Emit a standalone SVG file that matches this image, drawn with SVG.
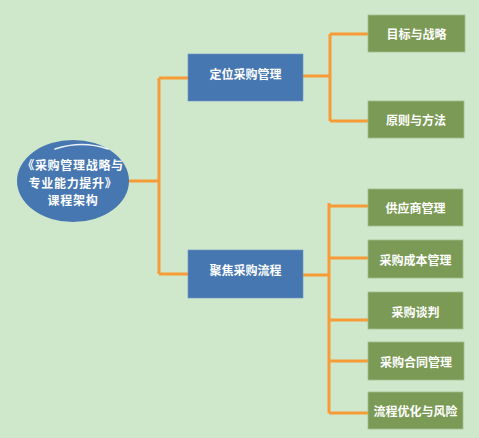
<svg xmlns="http://www.w3.org/2000/svg" width="479" height="438" viewBox="0 0 479 438">
<style>
.bg{fill:#CFE7CA}
.blue{fill:#4777B1;stroke:#6E93C3;stroke-width:0.6}
.green{fill:#7B9A55;stroke:#A6BE8E;stroke-width:0.8}
.t{font-family:"Noto Sans CJK SC","Noto Sans",sans-serif;font-weight:bold;fill:#FFFFFF;text-anchor:middle;dominant-baseline:central}
.c{fill:none;stroke:#F79B37;stroke-width:3;stroke-linejoin:miter}
</style>
<rect class="bg" x="0" y="0" width="479" height="438"/>
<g id="connectors">
<path class="c" d="M129,181 H159 M159,78 V274 M159,78 H188 M159,274 H188"/>
<path class="c" d="M303,76 H330 M330,34 V121 M330,34 H368 M330,121 H368"/>
<path class="c" d="M303,275 H329 M329,203 V413 M329,206 H368 M329,258 H368 M329,320 H368 M329,361 H368 M329,413 H368"/>
</g>
<g id="root">
<ellipse cx="73" cy="181" rx="56" ry="41" fill="#4777B1"/>
<path d="M55,149 Q82,140 108,149" fill="none" stroke="#FFFFFF" stroke-width="1.5" stroke-linecap="round" opacity="0.9"/>
<text class="t" font-size="12" letter-spacing="0.7"><tspan x="73" y="164">《采购管理战略与</tspan><tspan x="73" y="181.5">专业能力提升》</tspan><tspan x="73" y="199">课程架构</tspan></text>
</g>
<g id="n1">
<rect class="blue" x="188" y="54" width="115" height="47"/>
<text class="t" font-size="12" x="245.5" y="73">定位采购管理</text>
</g>
<g id="n2">
<rect class="blue" x="188" y="250" width="115" height="48"/>
<text class="t" font-size="12" x="245.5" y="269">聚焦采购流程</text>
</g>
<g id="g1">
<rect class="green" x="368" y="15" width="97" height="37"/>
<text class="t" font-size="12" x="416.5" y="33">目标与战略</text>
</g>
<g id="g2">
<rect class="green" x="368" y="101" width="96" height="37"/>
<text class="t" font-size="12" x="416" y="119">原则与方法</text>
</g>
<g id="g3">
<rect class="green" x="368" y="189" width="95" height="37"/>
<text class="t" font-size="12" x="415.5" y="207">供应商管理</text>
</g>
<g id="g4">
<rect class="green" x="368" y="240" width="95" height="38"/>
<text class="t" font-size="12" x="415.5" y="259">采购成本管理</text>
</g>
<g id="g5">
<rect class="green" x="368" y="292" width="95" height="37"/>
<text class="t" font-size="12" x="415.5" y="311">采购谈判</text>
</g>
<g id="g6">
<rect class="green" x="368" y="342" width="96" height="38"/>
<text class="t" font-size="12" x="416" y="361">采购合同管理</text>
</g>
<g id="g7">
<rect class="green" x="368" y="392" width="95" height="37"/>
<text class="t" font-size="12" x="415.5" y="410">流程优化与风险</text>
</g>
</svg>
